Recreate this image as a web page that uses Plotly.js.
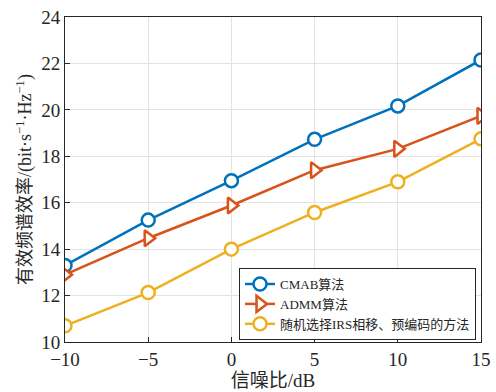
<!DOCTYPE html>
<html>
<head>
<meta charset="utf-8">
<script src="https://cdn.plot.ly/plotly-3.0.1.min.js"></script>
<style>html,body{margin:0;padding:0;background:#fff;}#chart{width:496px;height:392px;}</style>
</head>
<body>
<div id="chart"></div>
<script>
const snr = [-10, -5, 0, 5, 10, 15];
const cmab = [13.3, 15.25, 16.95, 18.73, 20.17, 22.15];
const admm = [12.9, 14.47, 15.88, 17.4, 18.32, 19.74];
const randomIRS = [10.7, 12.13, 14.0, 15.58, 16.9, 18.75];
const seriesNames = ['CMAB算法', 'ADMM算法', '随机选择IRS相移、预编码的方法'];
const xTicks = [-10, -5, 0, 5, 10, 15];
const yTicks = [10, 12, 14, 16, 18, 20, 22, 24];

const serif = '"Liberation Serif", "Noto Sans CJK SC", serif';
function tr(y, name, color, symbol, size) {
  return {
    x: snr, y: y, name: name, type: 'scatter', mode: 'lines+markers',
    line: {color: color, width: 2.5},
    marker: {symbol: symbol, size: size, color: '#ffffff', line: {color: color, width: 2.5}}
  };
}
const data = [
  tr(cmab, seriesNames[0], '#0072BD', 'circle', 13),
  tr(admm, seriesNames[1], '#D95319', 'triangle-right', 14),
  tr(randomIRS, seriesNames[2], '#EDB120', 'circle', 13)
];
const axisCommon = {
  showline: true, linecolor: '#262626', linewidth: 1, mirror: true,
  ticks: 'inside', ticklen: 5, tickcolor: '#262626',
  showgrid: true, gridcolor: '#e3e3e3', gridwidth: 1, zeroline: false,
  tickfont: {family: serif, size: 19, color: '#262626'}
};
const layout = {
  width: 496, height: 392,
  margin: {l: 65, r: 15, t: 17, b: 50},
  paper_bgcolor: '#fff', plot_bgcolor: '#fff',
  showlegend: true,
  legend: {
    x: 0.988, y: 0.006, xanchor: 'right', yanchor: 'bottom',
    bgcolor: '#fff', bordercolor: '#262626', borderwidth: 1,
    font: {family: serif, size: 13, color: '#262626'},
    tracegroupgap: 0
  },
  xaxis: Object.assign({}, axisCommon, {
    range: [-10, 15], tickvals: xTicks,
    title: {text: '信噪比/dB', font: {family: serif, size: 19, color: '#262626'}, standoff: 2}
  }),
  yaxis: Object.assign({}, axisCommon, {
    range: [10, 24], tickvals: yTicks,
    title: {text: '有效频谱效率/(bit·s<sup>−1</sup>·Hz<sup>−1</sup>)', font: {family: serif, size: 18, color: '#262626'}, standoff: 4}
  })
};
Plotly.newPlot('chart', data, layout, {displayModeBar: false, staticPlot: true});
</script>
</body>
</html>
